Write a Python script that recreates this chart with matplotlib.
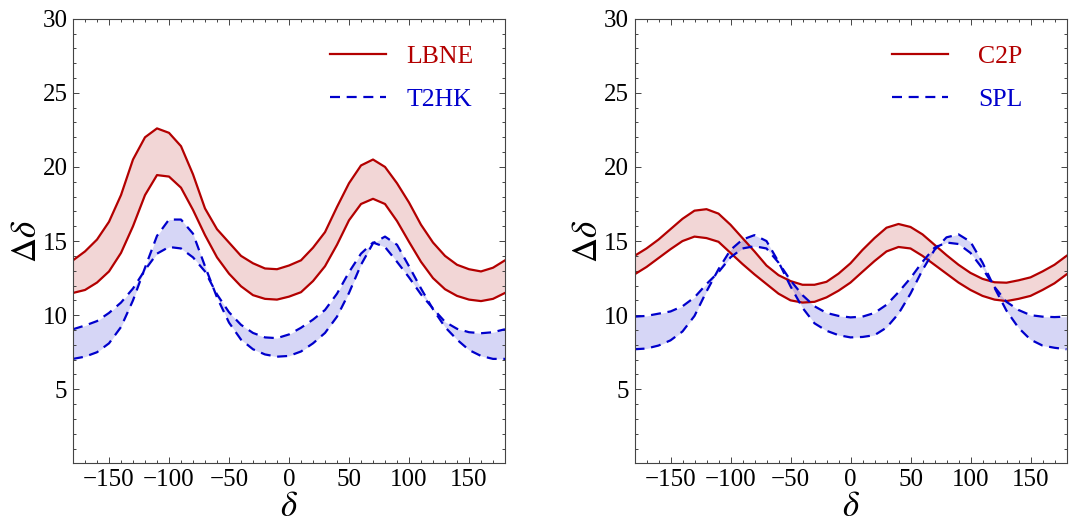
import numpy as np
import matplotlib
matplotlib.use("Agg")
import matplotlib.pyplot as plt
from matplotlib.ticker import MultipleLocator, FixedLocator

plt.rcParams['font.family'] = ['Liberation Serif', 'DejaVu Serif']
plt.rcParams['mathtext.fontset'] = 'stix'

# delta grid (degrees)
delta = [-180, -170, -160, -150, -140, -130, -120, -110, -100, -90, -80, -70,
         -60, -50, -40, -30, -20, -10, 0, 10, 20, 30, 40, 50, 60, 70, 80, 90,
         100, 110, 120, 130, 140, 150, 160, 170, 180]

# left panel: LBNE band (solid) and T2HK band (dashed)
lbne_hi = [13.7, 14.3, 15.1, 16.3, 18.1, 20.5, 22.0, 22.6, 22.3, 21.4, 19.5, 17.2,
           15.8, 14.9, 14.0, 13.5, 13.15, 13.1, 13.35, 13.7, 14.55, 15.6, 17.3, 18.9,
           20.1, 20.5, 20.0, 18.9, 17.6, 16.1, 14.9, 14.0, 13.4, 13.1, 12.95, 13.2, 13.7]
lbne_lo = [11.5, 11.7, 12.2, 12.95, 14.2, 16.0, 18.1, 19.45, 19.35, 18.6, 17.1, 15.4,
           13.9, 12.8, 11.95, 11.35, 11.1, 11.05, 11.25, 11.55, 12.3, 13.3, 14.75, 16.4,
           17.5, 17.85, 17.5, 16.35, 14.95, 13.6, 12.5, 11.75, 11.3, 11.05, 10.95, 11.1, 11.5]
t2hk_a = [9.05, 9.3, 9.6, 10.15, 10.85, 11.8, 13.05, 14.15, 14.6, 14.5, 13.9, 12.95,
          11.4, 10.2, 9.35, 8.8, 8.5, 8.45, 8.7, 9.15, 9.7, 10.35, 11.45, 12.9,
          14.15, 14.9, 14.6, 13.6, 12.55, 11.4, 10.45, 9.55, 9.08, 8.85, 8.78, 8.85, 9.05]
t2hk_b = [7.05, 7.2, 7.5, 8.1, 9.2, 11.0, 13.2, 15.35, 16.45, 16.45, 15.5, 13.3,
          11.2, 9.5, 8.35, 7.7, 7.35, 7.2, 7.25, 7.55, 8.1, 8.8, 9.9, 11.5,
          13.4, 14.85, 15.3, 14.75, 13.3, 11.8, 10.4, 9.2, 8.35, 7.65, 7.25, 7.05, 7.05]

# right panel: C2P band (solid) and SPL band (dashed)
c2p_hi = [14.0, 14.5, 15.1, 15.8, 16.5, 17.05, 17.15, 16.85, 16.1, 15.2, 14.3, 13.35,
          12.7, 12.3, 12.05, 12.05, 12.25, 12.8, 13.5, 14.4, 15.2, 15.9, 16.15, 15.95,
          15.45, 14.75, 14.05, 13.4, 12.85, 12.45, 12.22, 12.19, 12.35, 12.55, 12.95, 13.4, 14.0]
c2p_lo = [12.75, 13.25, 13.85, 14.45, 15.0, 15.3, 15.2, 14.95, 14.2, 13.45, 12.75, 12.1,
          11.45, 11.0, 10.85, 10.9, 11.2, 11.65, 12.2, 12.93, 13.65, 14.3, 14.6, 14.5,
          14.0, 13.4, 12.8, 12.2, 11.7, 11.3, 11.05, 10.95, 11.1, 11.3, 11.7, 12.15, 12.75]
spl_c = [9.9, 9.95, 10.1, 10.25, 10.6, 11.2, 12.1, 12.9, 13.9, 14.5, 14.65, 14.5,
         13.55, 12.35, 11.35, 10.6, 10.15, 9.95, 9.85, 9.9, 10.15, 10.7, 11.55, 12.5,
         13.6, 14.55, 14.9, 14.8, 14.2, 13.15, 11.9, 10.9, 10.35, 10.0, 9.9, 9.87, 9.9]
spl_d = [7.7, 7.75, 7.95, 8.3, 8.9, 9.95, 11.6, 13.1, 14.4, 15.1, 15.4, 15.0,
         13.6, 11.95, 10.5, 9.45, 8.95, 8.65, 8.5, 8.53, 8.65, 9.16, 10.1, 11.45,
         13.05, 14.4, 15.25, 15.45, 14.95, 13.55, 11.85, 10.3, 9.15, 8.35, 7.95, 7.8, 7.7]

RED = '#B30000'
BLUE = '#0000CC'


def draw_panel(ax, hi, lo, a, b, red_name, blue_name, textpad):
    ax.fill_between(delta, lo, hi, color=RED, alpha=0.16, lw=0)
    ax.fill_between(delta, a, b, color=BLUE, alpha=0.16, lw=0)
    ax.plot(delta, hi, color=RED, lw=1.6, label=red_name)
    ax.plot(delta, lo, color=RED, lw=1.6)
    ax.plot(delta, a, color=BLUE, lw=1.6, dashes=(4.5, 3), label=blue_name)
    ax.plot(delta, b, color=BLUE, lw=1.6, dashes=(4.5, 3))

    ax.set_xlim(-180, 180)
    ax.set_ylim(0, 30)
    ax.xaxis.set_major_locator(FixedLocator([-150, -100, -50, 0, 50, 100, 150]))
    ax.xaxis.set_minor_locator(MultipleLocator(10))
    ax.yaxis.set_major_locator(FixedLocator([5, 10, 15, 20, 25, 30]))
    ax.yaxis.set_minor_locator(MultipleLocator(1))
    ax.tick_params(which='both', direction='in', top=True, right=True,
                   color='#444444', width=0.7)
    ax.tick_params(which='major', length=4.5, labelsize=18, pad=4)
    ax.tick_params(which='minor', length=2.2)
    for s in ax.spines.values():
        s.set_color('#444444')
        s.set_linewidth(0.8)

    ax.set_xlabel(r'$\delta$', fontsize=25, labelpad=0)
    ax.set_ylabel(r'$\Delta\delta$', fontsize=25, labelpad=-1)

    ax.legend(loc='upper left', bbox_to_anchor=(0.595, 0.941), frameon=False,
              fontsize=18.5, handlelength=2.18, handletextpad=textpad,
              borderpad=0, borderaxespad=0, labelspacing=0.79,
              labelcolor='linecolor')


fig = plt.figure(figsize=(10.81, 5.27), dpi=100)
ax1 = fig.add_axes([73 / 1081, 63.6 / 527, 432 / 1081, 444.7 / 527])
ax2 = fig.add_axes([634.5 / 1081, 63.6 / 527, 432 / 1081, 444.7 / 527])

draw_panel(ax1, lbne_hi, lbne_lo, t2hk_a, t2hk_b, 'LBNE', 'T2HK', 0.78)
draw_panel(ax2, c2p_hi, c2p_lo, spl_c, spl_d, 'C2P', 'SPL', 1.19)

fig.savefig('out.png', dpi=100)
